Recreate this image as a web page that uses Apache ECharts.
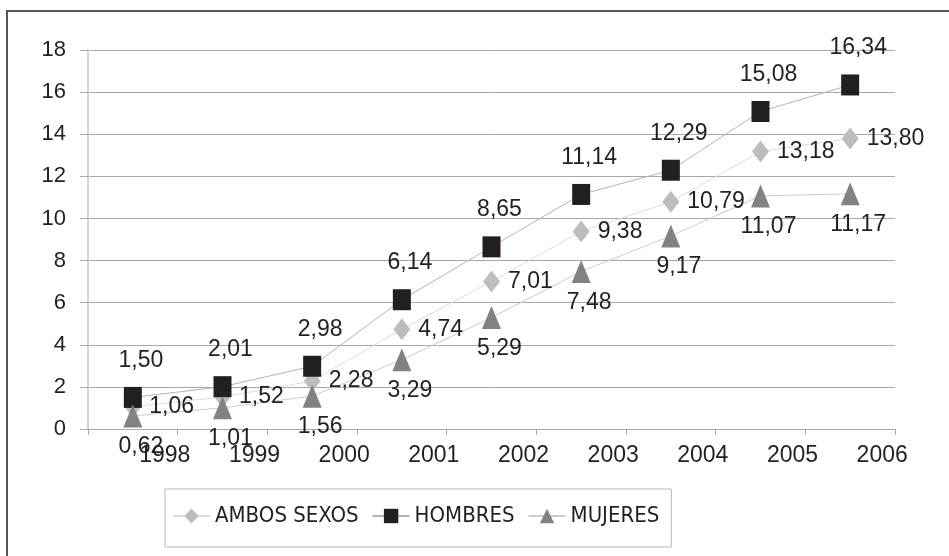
<!DOCTYPE html>
<html>
<head>
<meta charset="utf-8">
<script src="https://cdn.jsdelivr.net/npm/echarts@6/dist/echarts.min.js"></script>
<style>
html,body{margin:0;padding:0;background:#fff;}
#c{width:949px;height:556px;}
</style>
</head>
<body>
<div id="c"></div>
<script>
var years = ['1998','1999','2000','2001','2002','2003','2004','2005','2006'];
var ambos = [1.06, 1.52, 2.28, 4.74, 7.01, 9.38, 10.79, 13.18, 13.80];
var hombres = [1.50, 2.01, 2.98, 6.14, 8.65, 11.14, 12.29, 15.08, 16.34];
var mujeres = [0.62, 1.01, 1.56, 3.29, 5.29, 7.48, 9.17, 11.07, 11.17];
var yTicks = [0, 2, 4, 6, 8, 10, 12, 14, 16, 18];

var FONT = '"Liberation Sans", Arial, sans-serif';
var NARROW = '"DejaVu Sans Condensed", "Liberation Sans Narrow", sans-serif';
var TXT = '#231f20';
function fmt(p){ return Number(p.value).toFixed(2).replace('.', ','); }

var chart = echarts.init(document.getElementById('c'), null, {renderer:'canvas'});
chart.setOption({
  animation: false,
  backgroundColor: '#ffffff',
  textStyle: {fontFamily: FONT},
  graphic: [{
    type: 'rect', z: 100, silent: true,
    shape: {x: 7, y: 11, width: 1200, height: 800},
    style: {fill: 'none', stroke: '#555555', lineWidth: 2}
  }],
  grid: {left: 88, right: 54, top: 50, bottom: 127, containLabel: false},
  legend: {
    left: 165, top: 489,
    padding: [16, 12, 20, 7],
    itemGap: 13,
    itemWidth: 37, itemHeight: 18,
    borderColor: '#b5b5b5', borderWidth: 1,
    textStyle: {fontSize: 22, color: TXT, fontFamily: NARROW},
    data: ['AMBOS SEXOS', 'HOMBRES', 'MUJERES']
  },
  xAxis: {
    type: 'category',
    data: years,
    boundaryGap: true,
    axisLine: {show: true, lineStyle: {color: '#a8a8a8', width: 1}},
    axisTick: {show: true, length: 6, lineStyle: {color: '#a8a8a8'}},
    axisLabel: {fontSize: 23, color: TXT, fontFamily: FONT, margin: 15, padding: [0, 0, 0, 64]},
    splitLine: {show: false}
  },
  yAxis: {
    type: 'value',
    min: yTicks[0], max: yTicks[yTicks.length - 1], interval: 2,
    axisLine: {show: true, lineStyle: {color: '#d4d4d4', width: 2}},
    axisTick: {show: true, length: 8, lineStyle: {color: '#a8a8a8'}},
    axisLabel: {fontSize: 22, color: TXT, fontFamily: FONT, margin: 22},
    splitLine: {show: true, lineStyle: {color: '#a8a8a8', width: 1}}
  },
  series: [
    {
      name: 'AMBOS SEXOS', type: 'line', data: ambos,
      symbol: 'diamond', symbolSize: [17, 22],
      itemStyle: {color: '#bcbdc0'},
      lineStyle: {color: '#dcdcdc', width: 1},
      label: {show: true, position: 'right', distance: 8, formatter: fmt, fontSize: 23, color: TXT, fontFamily: FONT}
    },
    {
      name: 'HOMBRES', type: 'line', data: hombres,
      symbol: 'rect', symbolSize: [18, 21],
      itemStyle: {color: '#231f20'},
      lineStyle: {color: '#b4b4b4', width: 1},
      label: {show: true, position: 'top', distance: 15, offset: [8, 0], formatter: fmt, fontSize: 23, color: TXT, fontFamily: FONT}
    },
    {
      name: 'MUJERES', type: 'line', data: mujeres,
      symbol: 'triangle', symbolSize: [19, 23],
      itemStyle: {color: '#808285'},
      lineStyle: {color: '#cccccc', width: 1},
      label: {show: true, position: 'bottom', distance: 8, offset: [8, 0], formatter: fmt, fontSize: 23, color: TXT, fontFamily: FONT}
    }
  ]
});
</script>
</body>
</html>
